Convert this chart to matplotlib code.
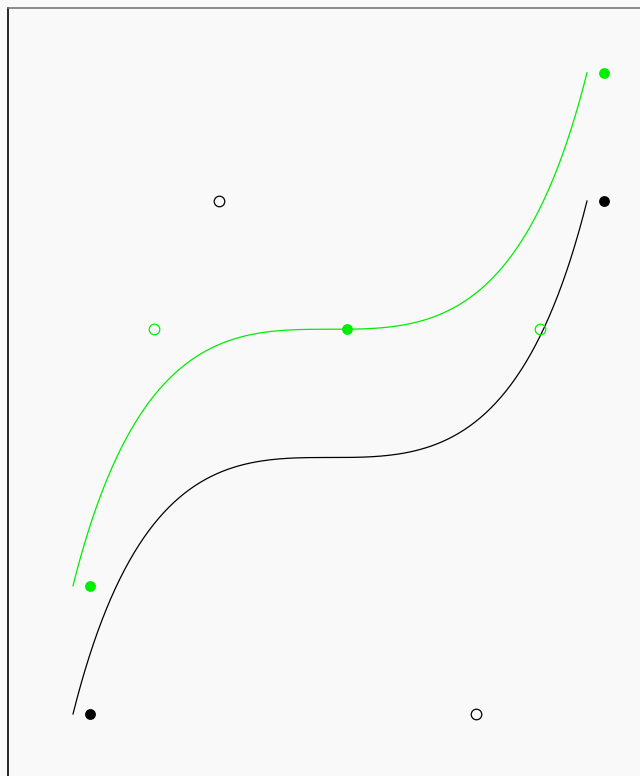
import numpy as np
import matplotlib.pyplot as plt

# control points of the cubic curve (grid units)
ctrl_x = [0, 1, 3, 4]
ctrl_y = [0, 4, 0, 4]

# subdivision points shown in green
mid_x = [0, 2, 4]
mid_y = [1, 3, 5]
half_x = [0.5, 3.5]
half_y = [3, 3]

green = '#00ee00'
bg = '#f9f9f9'

# the drawn curves sit a little left of the points
shift_x = -17 / 128.5
green_lift = 1

def bezier(px, py, n=200):
    t = np.linspace(0, 1, n)
    bx = ((1-t)**3*px[0] + 3*(1-t)**2*t*px[1] + 3*(1-t)*t**2*px[2] + t**3*px[3])
    by = ((1-t)**3*py[0] + 3*(1-t)**2*t*py[1] + 3*(1-t)*t**2*py[2] + t**3*py[3])
    return bx, by

fig = plt.figure(figsize=(6.4, 7.76), dpi=100, facecolor=bg)
ax = fig.add_axes([8/640, 0, 1 - 8/640, 1 - 8/776])
ax.set_facecolor(bg)

bx, by = bezier(ctrl_x, ctrl_y)
ax.plot(bx + shift_x, by, color='black', lw=0.9)
ax.plot(bx + shift_x, by + green_lift, color=green, lw=0.9)

ax.plot([ctrl_x[0], ctrl_x[3]], [ctrl_y[0], ctrl_y[3]], 'o', ms=7.8,
        color='black', mec='none')
ax.plot([ctrl_x[1], ctrl_x[2]], [ctrl_y[1], ctrl_y[2]], 'o', ms=7.6,
        mfc='none', mec='black', mew=0.9)
ax.plot(mid_x, mid_y, 'o', ms=7.8, color=green, mec='none')
ax.plot(half_x, half_y, 'o', ms=7.6, mfc='none', mec=green, mew=0.9)

ax.set_xlim((8 - 90) / 128.5, (640 - 90) / 128.5)
ax.set_ylim((714 - 776) / 128.25, (714 - 8) / 128.25)
ax.set_xticks([])
ax.set_yticks([])
ax.spines['right'].set_visible(False)
ax.spines['bottom'].set_visible(False)
ax.spines['left'].set_color('black')
ax.spines['left'].set_linewidth(1.2)
ax.spines['top'].set_color('#777777')
ax.spines['top'].set_linewidth(1.2)

fig.savefig('out.png', dpi=100, facecolor=bg)
